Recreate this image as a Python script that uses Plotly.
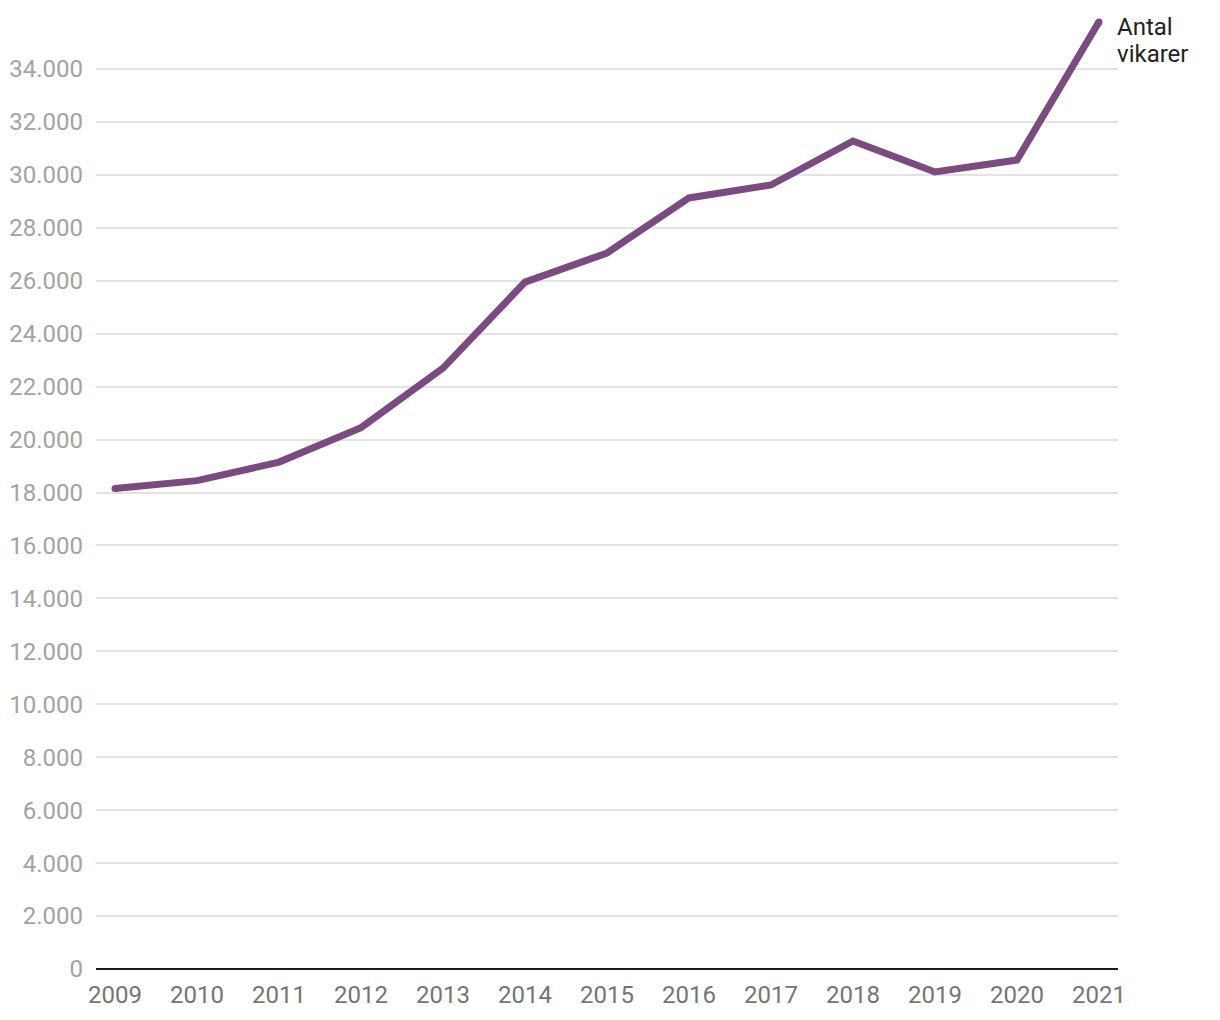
import plotly.graph_objects as go

years = [2009, 2010, 2011, 2012, 2013, 2014, 2015, 2016, 2017, 2018, 2019, 2020, 2021]
vikarer = [18150, 18450, 19150, 20450, 22700, 25950, 27050, 29130, 29620, 31280, 30110, 30560, 35780]
series_label_lines = ["Antal", "vikarer"]
y_ticks = list(range(0, 34001, 2000))
y_tick_labels = [f"{v:,}".replace(",", ".") for v in y_ticks]

line_color = "#7b4a80"

fig = go.Figure()
fig.add_trace(go.Scatter(
    x=years, y=vikarer, mode="lines",
    line=dict(color=line_color, width=7),
    hoverinfo="skip", showlegend=False,
))
# round caps at the line ends
fig.add_trace(go.Scatter(
    x=[years[0], years[-1]], y=[vikarer[0], vikarer[-1]], mode="markers",
    marker=dict(color=line_color, size=7, line=dict(width=0)),
    hoverinfo="skip", showlegend=False,
))

for i, txt in enumerate(series_label_lines):
    fig.add_annotation(
        x=years[-1], y=vikarer[-1], xref="x", yref="y",
        text=txt, showarrow=False,
        xanchor="left", yanchor="top", align="left",
        xshift=16, yshift=11 - 27 * i,
        font=dict(family="Roboto", size=24, color="#222222"),
    )

fig.update_layout(
    width=1220, height=1020,
    margin=dict(l=88, r=110, t=2, b=59),
    paper_bgcolor="white", plot_bgcolor="white",
    separators=",.",
    font=dict(family="Roboto"),
    xaxis=dict(
        range=[2008.768, 2021.232],
        tickvals=years, ticktext=[str(y) for y in years],
        showgrid=False, zeroline=False, showline=False,
        ticks="", tickfont=dict(size=24, color="#757575"),
        ticklabelstandoff=9,
    ),
    yaxis=dict(
        range=[0, 36230],
        tickvals=y_ticks, ticktext=y_tick_labels,
        showgrid=True, gridcolor="#e3e3e3", gridwidth=1.5,
        zeroline=True, zerolinecolor="#1a1a1a", zerolinewidth=2,
        showline=False, ticks="",
        tickfont=dict(size=24, color="#a3a3a3"),
        ticklabelstandoff=12,
    ),
)

fig.write_html("out.html")
